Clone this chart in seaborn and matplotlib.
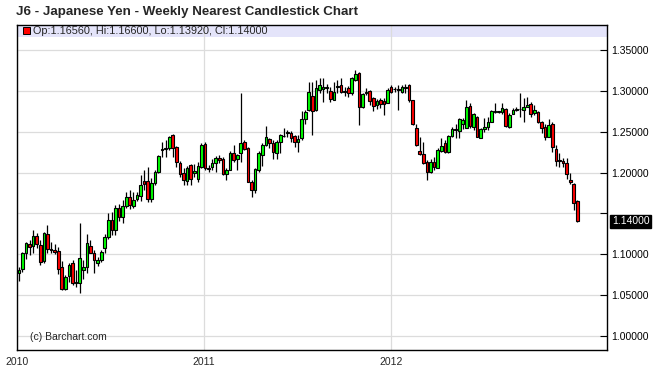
import numpy as np
import pandas as pd
import matplotlib
matplotlib.use('Agg')
import matplotlib.pyplot as plt
import matplotlib.dates as mdates
from matplotlib.patches import Rectangle
import seaborn as sns

# weekly J6 candles, Jan 2010 - Dec 2012
opens = [1.0765, 1.0814, 1.1010, 1.1120, 1.1100, 1.1220, 1.1112, 1.0916, 1.1247, 1.1060,
         1.1050, 1.1040, 1.0840, 1.0569, 1.0730, 1.0888, 1.0650, 1.0650, 1.0806, 1.0847,
         1.1100, 1.1010, 1.0890, 1.0930, 1.1072, 1.1207, 1.1419, 1.1300, 1.1560, 1.1460,
         1.1590, 1.1700, 1.1590, 1.1680, 1.1710, 1.1896, 1.1900, 1.1670, 1.1875, 1.2010,
         1.2284, 1.2290, 1.2296, 1.2460, 1.2317, 1.2120, 1.1990, 1.1900, 1.2090, 1.2000,
         1.1920, 1.2070, 1.2350, 1.2050, 1.2070, 1.2113, 1.2180, 1.2167, 1.1980, 1.2033,
         1.2245, 1.2163, 1.2236, 1.2380, 1.2298, 1.1890, 1.1790, 1.2030, 1.2216, 1.2340,
         1.2410, 1.2367, 1.2236, 1.2370, 1.2448, 1.2480, 1.2489, 1.2448, 1.2380, 1.2420,
         1.2650, 1.2767, 1.2938, 1.2767, 1.3010, 1.3021, 1.3040, 1.3004, 1.2890, 1.3050,
         1.3073, 1.2990, 1.3032, 1.2970, 1.3134, 1.3216, 1.2800, 1.2980, 1.3000, 1.2910,
         1.2824, 1.2890, 1.2880, 1.2857, 1.3050, 1.3020, 1.3020, 1.2991, 1.3040, 1.3073,
         1.2890, 1.2543, 1.2269, 1.2224, 1.2125, 1.2003, 1.2134, 1.2060, 1.2268, 1.2358,
         1.2256, 1.2448, 1.2531, 1.2513, 1.2590, 1.2550, 1.2815, 1.2560, 1.2676, 1.2428,
         1.2530, 1.2560, 1.2623, 1.2745, 1.2750, 1.2738, 1.2778, 1.2562, 1.2713, 1.2770,
         1.2775, 1.2766, 1.2807, 1.2840, 1.2725, 1.2745, 1.2615, 1.2560, 1.2440, 1.2591,
         1.2290, 1.2150, 1.2143, 1.2114, 1.1910, 1.1857, 1.1656]
highs = [1.0847, 1.1030, 1.1150, 1.1173, 1.1295, 1.1255, 1.1170, 1.1275, 1.1357, 1.1150,
         1.1120, 1.1090, 1.0910, 1.0740, 1.0890, 1.0930, 1.0800, 1.1385, 1.0930, 1.1247,
         1.1170, 1.1050, 1.0970, 1.1050, 1.1250, 1.1510, 1.1520, 1.1600, 1.1620, 1.1660,
         1.1760, 1.1780, 1.1760, 1.1760, 1.1970, 1.2030, 1.2070, 1.1930, 1.2030, 1.2220,
         1.2380, 1.2400, 1.2450, 1.2470, 1.2320, 1.2140, 1.2050, 1.2080, 1.2110, 1.2100,
         1.2130, 1.2360, 1.2370, 1.2090, 1.2160, 1.2200, 1.2220, 1.2195, 1.2050, 1.2260,
         1.2340, 1.2230, 1.2970, 1.2400, 1.2310, 1.1910, 1.2050, 1.2260, 1.2360, 1.2575,
         1.2420, 1.2400, 1.2400, 1.2470, 1.2540, 1.2520, 1.2510, 1.2460, 1.2460, 1.2750,
         1.2770, 1.3110, 1.3110, 1.3130, 1.3155, 1.3155, 1.3090, 1.3050, 1.3110, 1.3130,
         1.3155, 1.3050, 1.3060, 1.3175, 1.3257, 1.3236, 1.2970, 1.3030, 1.3010, 1.2920,
         1.2900, 1.2910, 1.2910, 1.3030, 1.3070, 1.3050, 1.3070, 1.3070, 1.3085, 1.3085,
         1.2890, 1.2600, 1.2440, 1.2380, 1.2150, 1.2160, 1.2195, 1.2300, 1.2427, 1.2400,
         1.2460, 1.2560, 1.2590, 1.2665, 1.2670, 1.2890, 1.2850, 1.2725, 1.2690, 1.2550,
         1.2665, 1.2685, 1.2765, 1.2850, 1.2760, 1.2850, 1.2790, 1.2725, 1.2795, 1.2807,
         1.2970, 1.2910, 1.2930, 1.2870, 1.2827, 1.2755, 1.2630, 1.2600, 1.2650, 1.2620,
         1.2340, 1.2240, 1.2175, 1.2175, 1.2000, 1.1870, 1.1660]
lows = [1.0675, 1.0780, 1.0940, 1.0990, 1.1010, 1.1070, 1.0867, 1.0888, 1.1010, 1.1010,
        1.1000, 1.0760, 1.0560, 1.0560, 1.0660, 1.0620, 1.0600, 1.0528, 1.0700, 1.0765,
        1.1010, 1.0770, 1.0850, 1.0900, 1.1010, 1.1180, 1.1230, 1.1230, 1.1400, 1.1380,
        1.1560, 1.1550, 1.1570, 1.1650, 1.1650, 1.1780, 1.1640, 1.1640, 1.1850, 1.1990,
        1.2190, 1.2190, 1.2280, 1.2190, 1.2070, 1.1950, 1.1850, 1.1850, 1.1850, 1.1950,
        1.1880, 1.2050, 1.2030, 1.2010, 1.2030, 1.2010, 1.2115, 1.1970, 1.1910, 1.2025,
        1.2135, 1.2030, 1.2130, 1.2275, 1.1880, 1.1700, 1.1750, 1.2010, 1.2080, 1.2320,
        1.2300, 1.2160, 1.2160, 1.2240, 1.2430, 1.2440, 1.2380, 1.2310, 1.2250, 1.2400,
        1.2600, 1.2760, 1.2460, 1.2760, 1.2970, 1.2870, 1.2970, 1.2870, 1.2890, 1.2970,
        1.2970, 1.2940, 1.2930, 1.2950, 1.3126, 1.2580, 1.2790, 1.2950, 1.2830, 1.2760,
        1.2780, 1.2790, 1.2700, 1.2850, 1.2970, 1.2990, 1.2767, 1.2970, 1.2970, 1.2870,
        1.2580, 1.2320, 1.2215, 1.2110, 1.1910, 1.1990, 1.2030, 1.2050, 1.2250, 1.2235,
        1.2235, 1.2440, 1.2420, 1.2420, 1.2530, 1.2540, 1.2550, 1.2520, 1.2430, 1.2420,
        1.2500, 1.2520, 1.2615, 1.2725, 1.2730, 1.2713, 1.2562, 1.2550, 1.2713, 1.2750,
        1.2685, 1.2620, 1.2807, 1.2685, 1.2705, 1.2603, 1.2480, 1.2400, 1.2430, 1.2257,
        1.2080, 1.2070, 1.2070, 1.1920, 1.1860, 1.1543, 1.1392]
closes = [1.0806, 1.1010, 1.1132, 1.1090, 1.1220, 1.1124, 1.0908, 1.1255, 1.1060, 1.1050,
          1.1030, 1.0814, 1.0569, 1.0724, 1.0867, 1.0650, 1.0660, 1.0950, 1.0847, 1.1140,
          1.1018, 1.0930, 1.0930, 1.1030, 1.1207, 1.1419, 1.1297, 1.1560, 1.1450, 1.1590,
          1.1700, 1.1600, 1.1660, 1.1720, 1.1850, 1.1855, 1.1670, 1.1870, 1.2010, 1.2200,
          1.2280, 1.2295, 1.2430, 1.2300, 1.2133, 1.1980, 1.1910, 1.2060, 1.1920, 1.2020,
          1.2080, 1.2340, 1.2050, 1.2040, 1.2120, 1.2174, 1.2150, 1.1980, 1.2025, 1.2236,
          1.2155, 1.2216, 1.2360, 1.2286, 1.1890, 1.1788, 1.2040, 1.2240, 1.2340, 1.2430,
          1.2367, 1.2257, 1.2380, 1.2460, 1.2450, 1.2500, 1.2428, 1.2379, 1.2410, 1.2653,
          1.2746, 1.2991, 1.2759, 1.3032, 1.3070, 1.3053, 1.3045, 1.2902, 1.2990, 1.3060,
          1.2990, 1.2995, 1.2971, 1.3155, 1.3208, 1.2800, 1.2960, 1.2985, 1.2880, 1.2820,
          1.2880, 1.2840, 1.2840, 1.3012, 1.2990, 1.3025, 1.3010, 1.3044, 1.3050, 1.2889,
          1.2596, 1.2339, 1.2228, 1.2114, 1.2003, 1.2125, 1.2072, 1.2276, 1.2329, 1.2256,
          1.2448, 1.2533, 1.2520, 1.2652, 1.2640, 1.2799, 1.2570, 1.2717, 1.2440, 1.2530,
          1.2560, 1.2623, 1.2754, 1.2750, 1.2738, 1.2786, 1.2574, 1.2705, 1.2766, 1.2774,
          1.2780, 1.2807, 1.2827, 1.2713, 1.2766, 1.2615, 1.2550, 1.2440, 1.2580, 1.2318,
          1.2143, 1.2143, 1.2120, 1.1983, 1.1880, 1.1624, 1.1400]

weeks = pd.date_range('2010-01-04', periods=len(closes), freq='7D')
df = pd.DataFrame({'date': weeks, 'open': opens, 'high': highs, 'low': lows, 'close': closes})
df['up'] = df['close'] >= df['open']

sns.set_style('white')
plt.rcParams['font.family'] = ['Liberation Sans', 'DejaVu Sans']

fig = plt.figure(figsize=(6.59, 3.74), dpi=100)
ax = fig.add_axes([17.3 / 659, 1 - 350 / 374, (607 - 17.3) / 659, (350 - 25) / 374])

x = mdates.date2num(df['date'])
# wicks
ax.vlines(x, df['low'], df['high'], color='black', linewidth=0.9, zorder=2)
# bodies
body_col = np.where(df['up'], '#00ff00', '#ff0000')
ax.bar(x, df['close'] - df['open'], bottom=df['open'], width=5.2,
       color=body_col, edgecolor='black', linewidth=0.8, zorder=3)

ax.set_xlim(mdates.date2num(pd.Timestamp('2010-01-01')), mdates.date2num(pd.Timestamp('2013-02-27')))
ax.set_ylim(0.9825, 1.3808)

last = df.iloc[-1]
yt = np.arange(1.0, 1.351, 0.05)
ax.set_yticks(yt)
# the tick label next to the last-price marker is hidden, as on the original
ax.set_yticklabels(['' if abs(v - last['close']) < 0.02 else f'{v:.5f}' for v in yt])
xt = [mdates.date2num(pd.Timestamp(f'{y}-01-01')) for y in (2010, 2011, 2012)]
ax.set_xticks(xt)
ax.set_xticklabels(['2010', '2011', '2012'])

ax.yaxis.tick_right()
ax.tick_params(axis='y', direction='in', length=5, width=0.8, labelsize=7.5, pad=3,
               colors='black', right=True, left=False)
ax.tick_params(axis='x', direction='out', length=3, width=0.8, labelsize=7.5, pad=2)

ax.grid(True, color='#dcdcdc', linewidth=0.9)
ax.set_axisbelow(True)
for s in ax.spines.values():
    s.set_color('black')
    s.set_linewidth(1.0)
    s.set_visible(True)

# info band at top of the plot
band_h = 12 / 325
ax.add_patch(Rectangle((0, 1 - band_h), 1, band_h, transform=ax.transAxes,
                       facecolor='#e4e4fa', edgecolor='none', zorder=0.4))
ax.add_patch(Rectangle((0.0105, 1 - band_h + 0.0085), 0.0105, 0.021, transform=ax.transAxes,
                       facecolor='#ff0000', edgecolor='black', linewidth=0.7, zorder=4))
ax.text(0.027, 1 - band_h / 2,
        f"Op:{last['open']:.5f}, Hi:{last['high']:.5f}, Lo:{last['low']:.5f}, Cl:{last['close']:.5f}",
        transform=ax.transAxes, fontsize=7.8, va='center', ha='left', zorder=5)

ax.text(0.0215, 0.041, '(c) Barchart.com', transform=ax.transAxes,
        fontsize=7.5, va='center', ha='left')

# last value marker on the price axis
ax.text(1.008, last['close'], f"{last['close']:.5f}", transform=ax.get_yaxis_transform(),
        fontsize=7.5, color='white', va='center', ha='left',
        bbox=dict(boxstyle='square,pad=0.15', facecolor='black', edgecolor='black'))

fig.text(16 / 659, 1 - 12 / 374, 'J6 - Japanese Yen - Weekly Nearest Candlestick Chart',
         fontsize=9.6, fontweight='bold', va='center', ha='left')

fig.savefig('out.png', dpi=100)
